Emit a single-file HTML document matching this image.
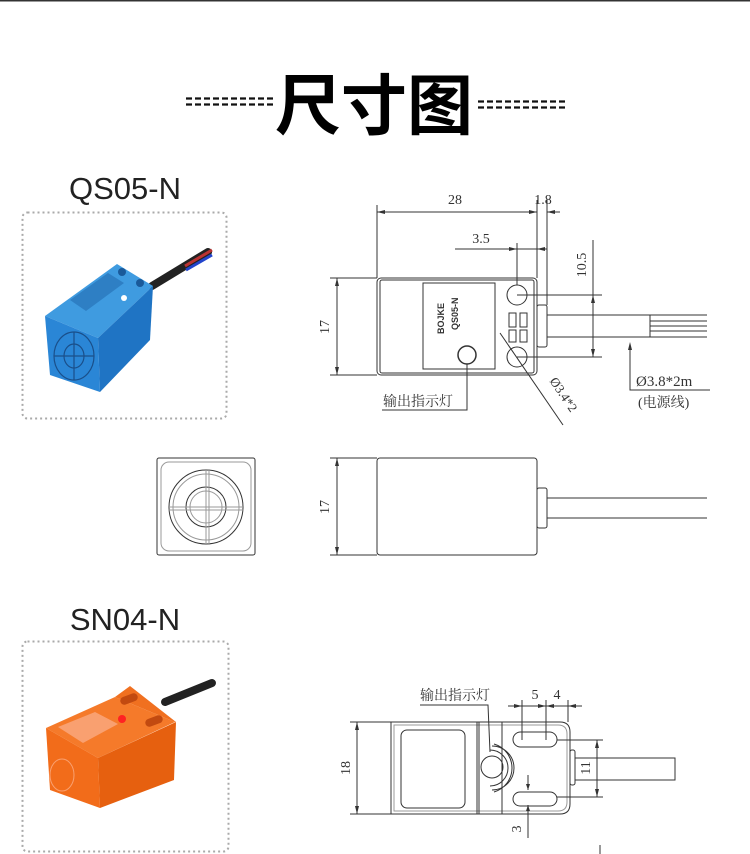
<!DOCTYPE html>
<html><head><meta charset="utf-8"><style>
html,body{margin:0;padding:0;background:#fff}
svg{display:block}
text{font-family:"Liberation Serif","Noto Serif CJK SC",serif;fill:#333}
.s{font-family:"Liberation Sans","Noto Sans CJK SC",sans-serif}
</style></head><body>
<svg width="750" height="854" viewBox="0 0 750 854" xmlns="http://www.w3.org/2000/svg">
<line x1="0" y1="0.5" x2="750" y2="0.5" stroke="#333" stroke-width="2"/>
<!-- title -->
<g stroke="#111" stroke-width="2.2" stroke-dasharray="6,3">
<line x1="186" y1="98.5" x2="275" y2="98.5"/><line x1="186" y1="104.5" x2="275" y2="104.5"/>
<line x1="478" y1="101.5" x2="567" y2="101.5"/><line x1="478" y1="107.5" x2="567" y2="107.5"/>
</g>
<text class="s" x="374" y="129" font-size="66" font-weight="bold" text-anchor="middle" style="fill:#000">尺寸图</text>
<text class="s" x="125" y="199" font-size="31" text-anchor="middle" style="fill:#222">QS05-N</text>
<text class="s" x="125" y="630" font-size="31" text-anchor="middle" style="fill:#222">SN04-N</text>
<!-- photo frames -->
<rect x="22.5" y="212.5" width="204" height="206" rx="5" fill="none" stroke="#aaa" stroke-width="2" stroke-dasharray="2,3"/>
<rect x="22.5" y="641.5" width="206" height="210" rx="5" fill="none" stroke="#aaa" stroke-width="2" stroke-dasharray="2,3"/>
<!-- blue sensor -->
<path d="M152 286 L208 252" stroke="#222" stroke-width="8" stroke-linecap="round"/>
<path d="M185 266 L212 250" stroke="#b33" stroke-width="3"/>
<path d="M186 270 L212 255" stroke="#24c" stroke-width="3"/>
<polygon points="45,316 117,264 153,286 98,338" fill="#3f9be0"/>
<polygon points="45,316 98,338 100,392 50,375" fill="#2a86d6"/>
<polygon points="98,338 153,286 150,340 100,392" fill="#1f74c4"/>
<polygon points="70,300 108,273 124,283 86,311" fill="#2e7fc4"/>
<circle cx="122" cy="272" r="4" fill="#1a5a9a"/><circle cx="140" cy="283" r="4" fill="#1a5a9a"/>
<circle cx="124" cy="298" r="3" fill="#fff"/>
<g fill="none" stroke="#1a4f8a" stroke-width="1.2"><ellipse cx="74" cy="356" rx="20" ry="24"/><ellipse cx="74" cy="356" rx="10" ry="12"/><line x1="54" y1="356" x2="94" y2="356"/><line x1="74" y1="332" x2="74" y2="380"/></g>
<!-- orange sensor -->
<path d="M165 702 L212 683" stroke="#222" stroke-width="8" stroke-linecap="round"/>
<polygon points="46,728 115,697 175,722 98,758" fill="#f57a2a"/>
<polygon points="115,697 130,686 176,722 175,722" fill="#f07020"/>
<polygon points="46,728 98,758 100,808 50,790" fill="#f26c1a"/>
<polygon points="98,758 176,722 174,780 100,808" fill="#e6600f"/>
<polygon points="58,727 95,712 118,724 83,743" fill="#f9a070"/>
<rect x="120" y="695" width="18" height="8" rx="4" fill="#c24a10" transform="rotate(-20 129 699)"/>
<rect x="145" y="717" width="18" height="8" rx="4" fill="#c24a10" transform="rotate(-20 154 721)"/>
<circle cx="122" cy="719" r="4" fill="#f22"/>
<ellipse cx="62" cy="775" rx="12" ry="16" fill="none" stroke="#f9a070"/>
<!-- QS05 top drawing -->
<g fill="none" stroke="#333" stroke-width="1">
<rect x="377" y="278" width="160" height="97" rx="4"/>
<rect x="380" y="280" width="154" height="93" rx="2"/>
<rect x="423" y="283" width="72" height="86"/>
<circle cx="467" cy="355" r="9" stroke-width="1.5"/>
<circle cx="517" cy="295" r="10"/><circle cx="517" cy="357" r="10"/>
<rect x="509" y="313" width="7" height="14"/><rect x="520" y="313" width="7" height="14"/>
<rect x="509" y="330" width="7" height="12"/><rect x="520" y="330" width="7" height="12"/>
<rect x="537" y="305" width="10" height="42" rx="2"/>
<path d="M547 315 H650 M547 337 H650 M650 315 V337 M650 315 H707 M650 326 H707 M650 337 H707 M650 321 H707 M650 331 H707"/>
<path d="M377 205 V278 M537 200 V278 M547 200 V305 M377 212 H537 M547 212 H560"/>
<path d="M455 249 H537 M517 243 V285 M537 249 H547"/>
<path d="M593 240 V357 M517 295 H602 M517 357 H602"/>
<path d="M330 278 H377 M330 375 H377 M337 278 V375"/>
<path d="M500 333 L563 425"/>
<path d="M467 364 V410 H382"/>
<path d="M630 345 V390 H710"/>
</g>
<g fill="#333">
<path d="M377 212 l8 -2 v4z M537 212 l-8 -2 v4z M547 212 l8 -2 v4z M517 249 l-8 -2 v4z M537 249 l8 -2 v4z M593 295 l-2 8 h4z M593 357 l-2 -8 h4z M337 278 l-2 8 h4z M337 375 l-2 -8 h4z M630 342 l-2 8 h4z"/>
</g>
<text x="455" y="204" font-size="14" text-anchor="middle">28</text>
<text x="543" y="204" font-size="14" text-anchor="middle">1.8</text>
<text x="481" y="243" font-size="14" text-anchor="middle">3.5</text>
<text x="0" y="0" font-size="14" text-anchor="middle" transform="translate(586,265) rotate(-90)">10.5</text>
<text x="0" y="0" font-size="14" text-anchor="middle" transform="translate(329,327) rotate(-90)">17</text>
<text x="0" y="0" font-size="13" text-anchor="middle" transform="translate(560,397) rotate(56)">Ø3.4*2</text>
<text x="0" y="0" font-size="9" font-weight="bold" transform="translate(444,334) rotate(-90)" class="s">BOJKE</text>
<text x="0" y="0" font-size="9" font-weight="bold" transform="translate(458,330) rotate(-90)" class="s">QS05-N</text>
<text x="383" y="406" font-size="14">输出指示灯</text>
<text x="636" y="386" font-size="15">Ø3.8*2m</text>
<text x="638" y="407" font-size="14">(电源线)</text>
<!-- QS05 front & side -->
<g fill="none" stroke="#333" stroke-width="1">
<rect x="157" y="458" width="98" height="97" rx="2"/>
<rect x="161" y="462" width="90" height="89" rx="8" stroke="#999"/>
<circle cx="206" cy="507" r="37"/><circle cx="206" cy="507" r="33" stroke="#999"/>
<circle cx="206" cy="507" r="20"/><circle cx="206" cy="507" r="16" stroke="#999"/>
<path d="M206 470 V544 M169 507 H243 M209 470 V544 M169 510 H243" stroke="#999"/>
<rect x="377" y="458" width="160" height="97" rx="3"/>
<rect x="537" y="488" width="10" height="40" rx="2"/>
<path d="M547 498 H707 M547 518 H707 M330 458 H377 M330 555 H377 M337 458 V555"/>
</g>
<path fill="#333" d="M337 458 l-2 8 h4z M337 555 l-2 -8 h4z"/>
<text x="0" y="0" font-size="14" text-anchor="middle" transform="translate(329,507) rotate(-90)">17</text>
<!-- SN04 drawing -->
<g fill="none" stroke="#333" stroke-width="1">
<path d="M391 722 H560 Q570 722 570 732 V804 Q570 814 560 814 H391 Z"/>
<path d="M394 725 H558 Q567 725 567 734 V802 Q567 811 558 811 H394 Z" stroke="#999"/>
<rect x="401" y="730" width="64" height="78" rx="6"/>
<path d="M477 722 V814 M479 722 V814 M502 722 V814"/>
<rect x="513" y="732" width="44" height="15" rx="7.5"/>
<rect x="513" y="792" width="44" height="14" rx="7"/>
<circle cx="492" cy="767" r="11"/>
<path d="M490 750 A18 18 0 0 1 490 786 M492 746 A22 22 0 0 1 492 790 M494 744 A25 25 0 0 1 494 792"/>
<rect x="570" y="750" width="5" height="35" rx="2"/>
<path d="M575 758 H675 V780 H575"/>
<path d="M350 722 H391 M350 814 H391 M357 722 V814"/>
<path d="M557 740 H603 M557 797 H603 M597 740 V797"/>
<path d="M522 700 V740 M546 700 V740 M568 700 V722 M508 706 H582"/>
<path d="M420 705 H488 L490 752"/>
<path d="M528 775 V790 M528 805 V838"/>
<path d="M600 845 V854"/>
</g>
<path fill="#333" d="M357 722 l-2 8 h4z M357 814 l-2 -8 h4z M597 740 l-2 8 h4z M597 797 l-2 -8 h4z M522 706 l-8 -2 v4z M546 706 l-8 -2 v4z M546 706 l8 -2 v4z M568 706 l8 -2 v4z M528 790 l-2 -6 h4z M528 805 l-2 6 h4z"/>
<text x="420" y="700" font-size="14">输出指示灯</text>
<text x="535" y="699" font-size="14" text-anchor="middle">5</text>
<text x="557" y="699" font-size="14" text-anchor="middle">4</text>
<text x="0" y="0" font-size="14" text-anchor="middle" transform="translate(350,768) rotate(-90)">18</text>
<text x="0" y="0" font-size="14" text-anchor="middle" transform="translate(590,768) rotate(-90)">11</text>
<text x="0" y="0" font-size="14" text-anchor="middle" transform="translate(521,829) rotate(-90)">3</text>
</svg>
</body></html>
